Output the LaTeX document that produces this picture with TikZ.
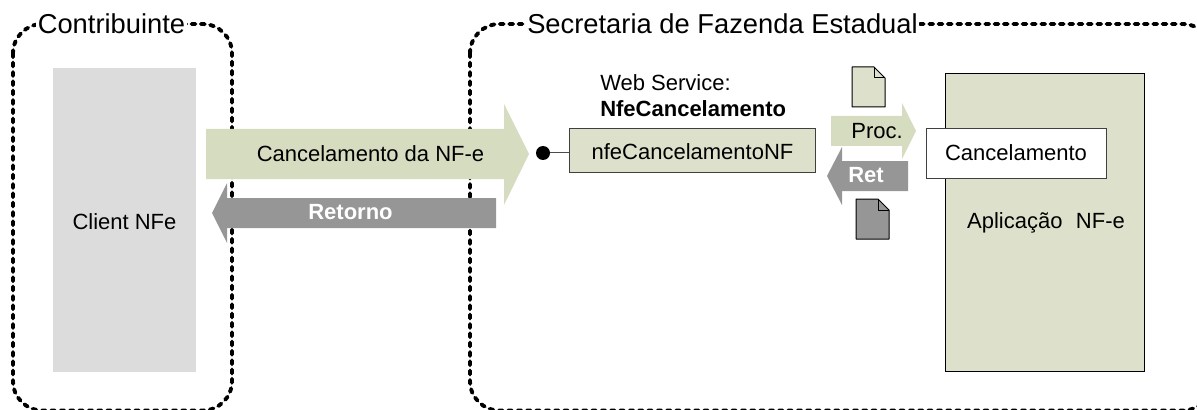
\documentclass[tikz,border=0pt]{standalone}
\usepackage{fontspec}
\setmainfont{Liberation Sans}
\definecolor{sageA}{HTML}{D6DCC0}
\definecolor{sageB}{HTML}{DDE1CB}
\definecolor{greyA}{HTML}{969696}
\definecolor{greyB}{HTML}{DCDCDC}
\tikzset{
  x=0.75pt,y=-0.75pt,
  zone/.style={draw=black,line width=2.9pt,rounded corners=22pt,dash pattern=on 2.9pt off 4.1pt,line cap=round},
  zonelabel/.style={fill=white,inner xsep=1pt,inner ysep=0pt,text=black,font=\fontsize{20.5}{22}\selectfont,anchor=center},
  bandtext/.style={inner sep=0pt,font=\fontsize{16.5}{18}\selectfont,anchor=center},
  bandbold/.style={inner sep=0pt,text=white,font=\fontsize{16.5}{18}\selectfont\bfseries,anchor=center},
  boxframe/.style={draw=black!75,line width=0.75pt},
  docframe/.style={draw=black,line width=0.75pt,line join=round},
}
\begin{document}
\begin{tikzpicture}
\useasboundingbox (0,0) rectangle (1197,410);
\begin{scope}
\clip (0,0) rectangle (1197,410);
\draw[zone] (13,24) rectangle (232,410.5);
\draw[zone] (470,24) rectangle (1212,410.5);
\end{scope}
\node[zonelabel] (contrib) at (111.5,24) {Contribuinte};
\node[zonelabel] (sefaz) at (722.5,24) {Secretaria de Fazenda Estadual};
% client
\fill[greyB] (53,68) rectangle (196,372);
\node[bandtext] (client) at (124.5,222) {Client NFe};
% big arrows
\fill[sageA] (206,129) -- (504,129) -- (504,104) -- (529,154) -- (504,205) -- (504,179) -- (206,179) -- cycle;
\node[bandtext] (canc) at (370.5,154) {Cancelamento da NF-e};
\fill[greyA] (496,198) -- (227,198) -- (227,183) -- (212,213) -- (227,243) -- (227,228) -- (496,228) -- cycle;
\node[bandbold] (ret) at (350.5,212) {Retorno};
% web service
\node[anchor=west,inner sep=0pt,font=\fontsize{16.5}{18}\selectfont] (ws) at (600,83) {Web Service:};
\node[anchor=west,inner sep=0pt,font=\fontsize{16.5}{18}\selectfont\bfseries] (wsname) at (600,109) {NfeCancelamento};
\node[boxframe,fill=sageB,minimum width=184.5pt,minimum height=33pt,inner sep=0pt] (nfe) at (692.5,150.5) {};
\node[bandtext] (nfetxt) at (692.5,152) {nfeCancelamentoNF};
\node[circle,fill=black,minimum size=10.5pt,inner sep=0pt] (dot) at (543,153) {};
\draw[black!70,line width=0.75pt] (dot) -- (nfe.west |- dot);
% app
\node[boxframe,draw=black,fill=sageB,minimum width=149.25pt,minimum height=222.75pt,inner sep=0pt] (app) at (1044.5,222.5) {};
\node[bandtext] (apptxt) at (1046,223) {Aplicação\,\, NF-e};
% small arrows
\fill[sageA] (831,116) -- (902,116) -- (902,103) -- (916,131) -- (902,159) -- (902,146) -- (831,146) -- cycle;
\node[bandtext] (proc) at (877,131) {Proc.};
\fill[greyA] (908,161) -- (842,161) -- (842,147) -- (827,176) -- (842,205) -- (842,191) -- (908,191) -- cycle;
\node[bandbold] (retb) at (866,175) {Ret};
\node[boxframe,fill=white,minimum width=135pt,minimum height=37pt,inner sep=0pt] (cancbox) at (1016,153.5) {};
\node[bandtext] (canctxt) at (1016,153) {Cancelamento};
% documents
\draw[docframe,fill=sageB] (852,67) -- (874,67) -- (885,78) -- (885,107) -- (852,107) -- cycle;
\draw[docframe] (874,67) -- (874,78) -- (885,78);
\draw[docframe,fill=greyA] (856,199) -- (878,199) -- (889,210) -- (889,239) -- (856,239) -- cycle;
\draw[docframe] (878,199) -- (878,210) -- (889,210);
\end{tikzpicture}
\end{document}
